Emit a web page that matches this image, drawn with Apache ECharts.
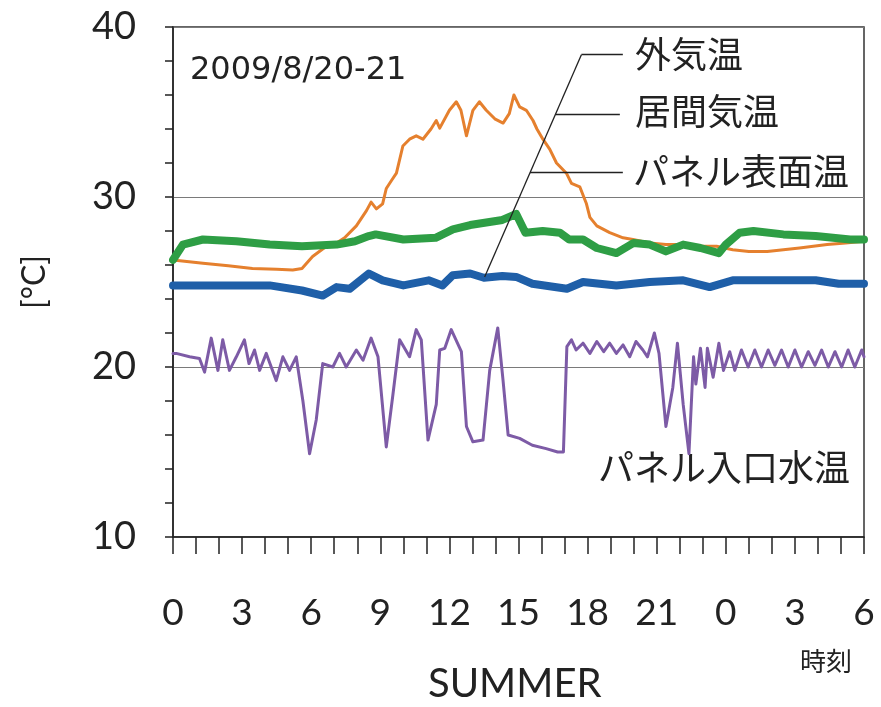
<!DOCTYPE html>
<html>
<head>
<meta charset="utf-8">
<script src="https://cdn.jsdelivr.net/npm/echarts@6/dist/echarts.min.js"></script>
<style>
  html, body { margin: 0; padding: 0; background: #ffffff; }
  #chart { width: 881px; height: 707px; }
</style>
</head>
<body>
<div id="chart"></div>
<script>
// Hour labels along the bottom axis (0..30 h, shown as clock time)
const hourTicks = [0, 3, 6, 9, 12, 15, 18, 21, 24, 27, 30];
const tempTicks = [10, 20, 30, 40];

// [hour, °C] readings, 2009/8/20 00:00 – 8/21 06:00
const outdoorTemp = [
  [0, 26.3], [1.3, 26.1], [2.4, 25.95], [3.45, 25.8], [4.5, 25.75], [5.2, 25.7], [5.6, 25.8],
  [6.06, 26.5], [6.66, 27.1], [7.1, 27.3], [7.45, 27.6], [7.96, 28.3], [8.4, 29.2], [8.6, 29.7],
  [8.83, 29.3], [9.1, 29.6], [9.26, 30.5], [9.5, 31.0], [9.7, 31.4], [9.98, 33.0], [10.27, 33.4],
  [10.56, 33.6], [10.85, 33.4], [11.2, 34.0], [11.43, 34.5], [11.58, 34.05], [12.0, 35.1],
  [12.3, 35.6], [12.5, 35.1], [12.74, 33.6], [13.02, 35.1], [13.3, 35.6], [13.6, 35.1],
  [13.97, 34.6], [14.33, 34.35], [14.6, 34.9], [14.8, 36.0], [15.05, 35.3], [15.34, 35.1],
  [15.63, 34.5], [15.8, 34.0], [16.06, 33.4], [16.36, 32.8], [16.65, 32.0], [17.08, 31.4],
  [17.3, 30.8], [17.66, 30.6], [17.95, 29.6], [18.1, 28.8], [18.4, 28.3], [18.96, 27.9],
  [19.54, 27.6], [19.97, 27.5], [20.7, 27.3], [21.4, 27.2], [22.15, 27.2], [22.9, 27.1],
  [23.6, 27.1], [24.3, 26.9], [25.0, 26.8], [25.8, 26.8], [26.5, 26.9], [27.2, 27.0],
  [27.8, 27.1], [28.4, 27.2], [29.2, 27.3], [30, 27.4]
];

const roomTemp = [
  [0, 26.3], [0.43, 27.2], [1.3, 27.5], [2.75, 27.4], [4.2, 27.2], [5.6, 27.1], [7.1, 27.2],
  [7.9, 27.4], [8.5, 27.7], [8.8, 27.8], [10.0, 27.5], [11.4, 27.6], [12.15, 28.1], [12.9, 28.35],
  [14.3, 28.65], [14.9, 29.0], [15.3, 27.9], [16.05, 28.0], [16.8, 27.9], [17.2, 27.5],
  [17.8, 27.5], [18.4, 27.0], [19.25, 26.7], [20.0, 27.3], [20.7, 27.2], [21.4, 26.8],
  [22.15, 27.2], [22.9, 27.0], [23.7, 26.7], [24.0, 27.2], [24.6, 27.9], [25.2, 28.0],
  [26.5, 27.8], [27.9, 27.7], [29.4, 27.5], [30, 27.5]
];

const panelSurfaceTemp = [
  [0, 24.8], [2.75, 24.8], [4.2, 24.8], [5.6, 24.5], [6.5, 24.2], [7.1, 24.7], [7.67, 24.6],
  [8.5, 25.5], [9.1, 25.1], [10.0, 24.8], [11.1, 25.1], [11.7, 24.8], [12.15, 25.4], [12.9, 25.5],
  [13.5, 25.25], [14.3, 25.35], [14.9, 25.3], [15.6, 24.9], [17.1, 24.6], [17.8, 25.0],
  [19.25, 24.8], [20.7, 25.0], [22.15, 25.1], [23.3, 24.7], [24.3, 25.1], [25.8, 25.1],
  [27.9, 25.1], [28.9, 24.9], [30, 24.9]
];

const panelInletTemp = [
  [0, 20.8], [0.14, 20.8], [0.72, 20.6], [1.15, 20.5], [1.37, 19.7], [1.66, 21.7], [1.95, 19.8],
  [2.16, 21.6], [2.45, 19.8], [2.75, 20.6], [3.1, 21.6], [3.3, 20.2], [3.54, 21.0], [3.76, 19.8],
  [4.05, 20.8], [4.48, 19.2], [4.77, 20.6], [5.06, 19.8], [5.35, 20.6], [5.64, 18.0], [5.93, 14.9],
  [6.22, 16.9], [6.5, 20.2], [6.94, 20.0], [7.23, 20.8], [7.52, 20.0], [7.96, 21.0], [8.25, 20.4],
  [8.6, 21.7], [8.9, 20.6], [9.26, 15.3], [9.55, 18.4], [9.84, 21.6], [10.27, 20.6], [10.56, 22.2],
  [10.78, 21.6], [11.07, 15.7], [11.43, 17.8], [11.58, 21.0], [11.8, 21.1], [12.08, 22.2],
  [12.52, 20.9], [12.74, 16.5], [13.02, 15.6], [13.46, 15.7], [13.75, 19.8], [14.1, 22.3],
  [14.33, 19.2], [14.55, 16.0], [15.05, 15.8], [15.6, 15.4], [16.2, 15.2], [16.7, 15.0],
  [16.95, 15.0], [17.1, 21.2], [17.3, 21.6], [17.5, 21.0], [17.8, 21.4], [18.1, 20.8],
  [18.4, 21.5], [18.7, 20.9], [18.96, 21.4], [19.25, 20.8], [19.54, 21.3], [19.83, 20.6],
  [20.1, 21.5], [20.4, 21.0], [20.6, 20.6], [20.9, 22.0], [21.1, 20.8], [21.4, 16.5],
  [21.7, 18.8], [21.9, 21.4], [22.15, 17.8], [22.4, 14.9], [22.6, 20.6], [22.7, 19.0],
  [22.9, 21.1], [23.1, 18.8], [23.2, 21.1], [23.45, 19.4], [23.7, 21.4], [23.9, 19.8],
  [24.17, 20.9], [24.39, 19.8], [24.68, 21.0], [24.97, 20.0], [25.26, 21.0], [25.55, 20.0],
  [25.84, 21.0], [26.13, 20.1], [26.42, 21.0], [26.71, 20.0], [27.0, 21.0], [27.29, 20.0],
  [27.58, 20.9], [27.87, 20.1], [28.16, 21.0], [28.45, 20.0], [28.74, 20.9], [29.03, 20.0],
  [29.31, 21.0], [29.6, 20.0], [29.9, 21.0], [30, 20.6]
];

const GRID = { left: 173, top: 27, width: 691, height: 510 };
const ink = '#222';
const numFont = 'Lato, "Noto Sans", sans-serif';
const jpFont = '"Noto Sans CJK JP", sans-serif';

function lineSeries(data, color, width, z) {
  return {
    type: 'line', data: data, showSymbol: false, symbol: 'none', z: z,
    lineStyle: { color: color, width: width, join: 'round', cap: 'round' },
    silent: true, animation: false
  };
}

// Leader lines tying the series names to the curves (data coordinates)
const leaderTop = [17.73, 38.37];
const leaderFoot = [13.53, 25.29];
const leaders = [
  { coords: [leaderTop, leaderFoot] },
  { coords: [leaderTop, [19.53, 38.37]] },
  { coords: [[16.60, 34.84], [19.40, 34.84]] },
  { coords: [[15.50, 31.44], [19.53, 31.44]] }
];

const chart = echarts.init(document.getElementById('chart'), null, { renderer: 'canvas' });
chart.setOption({
  animation: false,
  backgroundColor: '#ffffff',
  grid: Object.assign({ show: true, borderColor: '#333', borderWidth: 1.5, containLabel: false }, GRID),
  xAxis: {
    type: 'value', min: hourTicks[0], max: hourTicks[hourTicks.length - 1], interval: 3,
    axisLine: { show: true, onZero: false, lineStyle: { color: '#222', width: 1.5 } },
    axisTick: { show: true, inside: false, length: 17, lineStyle: { color: '#222', width: 1.5 } },
    minorTick: { show: true, splitNumber: 3, length: 17, lineStyle: { color: '#222', width: 1.5 } },
    axisLabel: {
      formatter: v => String(v % 24), fontSize: 37, fontFamily: numFont, color: ink, margin: 58
    },
    splitLine: { show: false }
  },
  yAxis: {
    type: 'value', min: tempTicks[0], max: tempTicks[tempTicks.length - 1], interval: 10,
    name: '[°C]', nameLocation: 'middle', nameGap: 122, nameRotate: 90,
    nameTextStyle: { fontSize: 32, fontFamily: numFont, color: ink },
    axisLine: { show: true, lineStyle: { color: '#222', width: 1.5 } },
    axisTick: { show: true, inside: false, length: 8, lineStyle: { color: '#222', width: 1.5 } },
    minorTick: { show: true, splitNumber: 5, length: 8, lineStyle: { color: '#222', width: 1.5 } },
    axisLabel: { fontSize: 38, fontFamily: numFont, color: ink, margin: 37 },
    splitLine: { show: true, lineStyle: { color: '#7a7a7a', width: 1.2 } }
  },
  series: [
    lineSeries(outdoorTemp, '#E5802E', 3, 2),
    lineSeries(panelSurfaceTemp, '#1F5FA8', 8, 3),
    lineSeries(roomTemp, '#2E9E45', 8, 4),
    lineSeries(panelInletTemp, '#7D5BA6', 3, 5),
    {
      type: 'lines', coordinateSystem: 'cartesian2d', data: leaders, z: 10, silent: true,
      lineStyle: { color: '#222', width: 1.3, opacity: 1 }, symbol: 'none', animation: false
    }
  ],
  graphic: [
    { type: 'text', left: 190, top: 55, style: { text: '2009/8/20-21', font: '32px "DejaVu Sans", sans-serif', fill: ink } },
    { type: 'text', left: 635, top: 36, style: { text: '外気温', font: '36px ' + jpFont, fill: ink } },
    { type: 'text', left: 635, top: 93, style: { text: '居間気温', font: '36px ' + jpFont, fill: ink } },
    { type: 'text', left: 633, top: 153, style: { text: 'パネル表面温', font: '36px ' + jpFont, fill: ink } },
    { type: 'text', left: 598, top: 449, style: { text: 'パネル入口水温', font: '36px ' + jpFont, fill: ink } },
    { type: 'text', left: 800, top: 648, style: { text: '時刻', font: '26px ' + jpFont, fill: ink } },
    { type: 'text', left: 428, top: 664, style: { text: 'SUMMER', font: '40px ' + numFont, fill: ink } }
  ]
});
</script>
</body>
</html>
